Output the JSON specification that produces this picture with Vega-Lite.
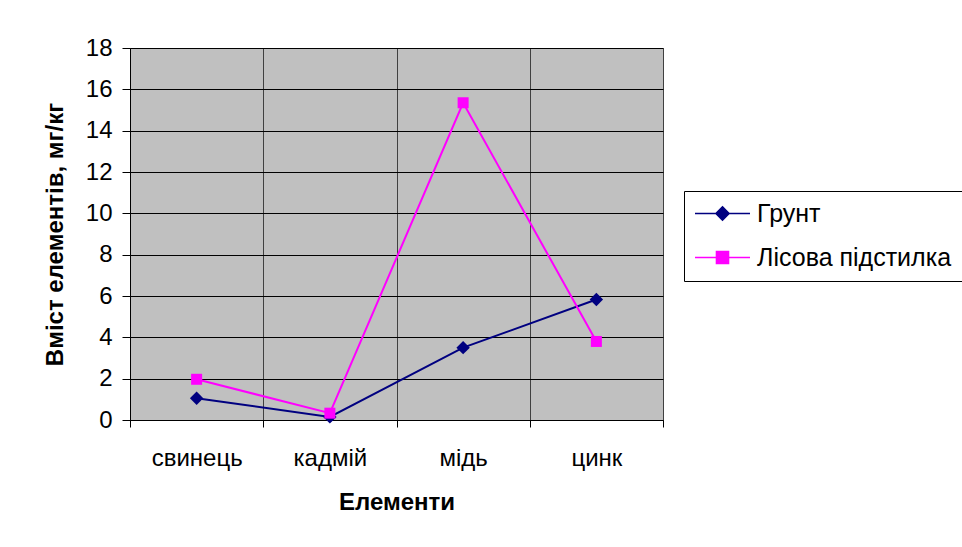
{
  "$schema": "https://vega.github.io/schema/vega-lite/v6.json",
  "width": 533,
  "height": 372,
  "autosize": {"type": "none"},
  "padding": {"left": 130, "top": 48, "right": 299, "bottom": 127},
  "background": "white",
  "config": {
    "font": "Liberation Sans",
    "view": {"fill": "#C0C0C0", "stroke": "#808080", "strokeWidth": 1}
  },
  "data": {
    "values": [
      {"element": "свинець", "series": "Грунт", "value": 1.05},
      {"element": "кадмій", "series": "Грунт", "value": 0.15},
      {"element": "мідь", "series": "Грунт", "value": 3.5},
      {"element": "цинк", "series": "Грунт", "value": 5.83},
      {"element": "свинець", "series": "Лісова підстилка", "value": 1.97},
      {"element": "кадмій", "series": "Лісова підстилка", "value": 0.33},
      {"element": "мідь", "series": "Лісова підстилка", "value": 15.35},
      {"element": "цинк", "series": "Лісова підстилка", "value": 3.8}
    ]
  },
  "encoding": {
    "x": {
      "field": "element",
      "type": "nominal",
      "sort": ["свинець", "кадмій", "мідь", "цинк"],
      "bandPosition": 0.5,
      "scale": {"type": "band", "paddingInner": 0, "paddingOuter": 0},
      "title": "Елементи",
      "axis": {
        "tickBand": "extent",
        "grid": true,
        "gridColor": "#404040",
        "gridWidth": 1,
        "domainColor": "#000000",
        "tickColor": "#000000",
        "tickSize": 7,
        "labelAngle": 0,
        "labelFont": "Liberation Sans",
        "labelFontSize": 24,
        "labelColor": "#000000",
        "labelPadding": 19,
        "titleFont": "Liberation Sans",
        "titleFontSize": 24,
        "titleFontWeight": "bold",
        "titleColor": "#000000",
        "titlePadding": 20
      }
    },
    "y": {
      "field": "value",
      "type": "quantitative",
      "scale": {"domain": [0, 18], "nice": false, "zero": true},
      "title": "Вміст елементів, мг/кг",
      "axis": {
        "values": [0, 2, 4, 6, 8, 10, 12, 14, 16, 18],
        "grid": true,
        "gridColor": "#000000",
        "gridWidth": 1,
        "domainColor": "#000000",
        "tickColor": "#000000",
        "tickSize": 8,
        "labelFont": "Liberation Sans",
        "labelFontSize": 24,
        "labelColor": "#000000",
        "labelPadding": 10,
        "titleFont": "Liberation Sans",
        "titleFontSize": 24,
        "titleFontWeight": "bold",
        "titleColor": "#000000",
        "titlePadding": 18
      }
    },
    "color": {
      "field": "series",
      "type": "nominal",
      "scale": {"domain": ["Грунт", "Лісова підстилка"], "range": ["#000080", "#FF00FF"]},
      "legend": {
        "orient": "none",
        "legendX": 554,
        "legendY": 143,
        "title": null,
        "strokeColor": "#000000",
        "fillColor": "#FFFFFF",
        "padding": 10,
        "symbolSize": 484,
        "symbolStrokeWidth": 1.5,
        "symbolOffset": 16,
        "labelOffset": 22,
        "labelLimit": 400,
        "rowPadding": 18,
        "labelFont": "Liberation Sans",
        "labelFontSize": 25,
        "labelColor": "#000000",
        "encode": {
          "symbols": {
            "update": {
              "shape": {"signal": "datum.value === 'Грунт' ? 'M-2.5,0H2.5M0,-0.6L0.6,0L0,0.6L-0.6,0Z' : 'M-2.5,0H2.5M-0.55,-0.55H0.55V0.55H-0.55Z'"},
              "fill": {"scale": "color", "field": "value"},
              "stroke": {"scale": "color", "field": "value"},
              "opacity": {"value": 1},
              "fillOpacity": {"value": 1},
              "strokeOpacity": {"value": 1}
            }
          }
        }
      }
    }
  },
  "layer": [
    {"mark": {"type": "line", "strokeWidth": 2}},
    {
      "transform": [{"filter": "datum.series === 'Грунт'"}],
      "mark": {"type": "point", "filled": true, "opacity": 1, "size": 180, "shape": "diamond"}
    },
    {
      "transform": [{"filter": "datum.series === 'Лісова підстилка'"}],
      "mark": {"type": "point", "filled": true, "opacity": 1, "size": 121, "shape": "square"}
    }
  ]
}
